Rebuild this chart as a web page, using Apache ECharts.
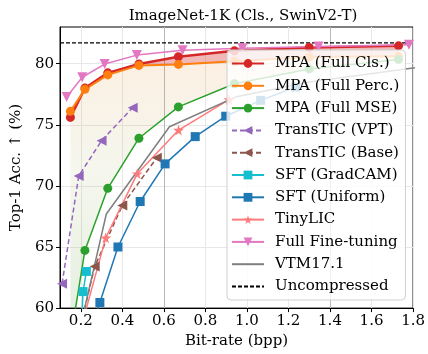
<!DOCTYPE html>
<html><head><meta charset="utf-8">
<script src="https://cdn.jsdelivr.net/npm/echarts@6/dist/echarts.min.js"></script>
<style>html,body{margin:0;padding:0;background:#fff}#c{width:428px;height:354px}</style>
</head><body><div id="c"></div>
<script>
// ---- data ----
const xTicks = [0.2,0.4,0.6,0.8,1.0,1.2,1.4,1.6,1.8];
const yTicks = [60,65,70,75,80];
const mpaX   = [0.15,0.22,0.33,0.48,0.67,0.94,1.30,1.73];
const clsY   = [75.6,78.0,79.25,79.97,80.57,81.05,81.32,81.46];
const percY  = [76.1,77.9,79.08,79.86,79.94,80.2,80.55,80.6];
const mseY   = [57.4,64.72,69.8,73.9,76.46,78.36,79.57,80.35];
const vptX   = [0.11,0.19,0.30,0.45];
const vptY   = [62.0,70.8,73.7,76.4];
const baseX  = [0.2,0.267,0.40,0.566];
const baseY  = [58.6,63.4,68.4,72.3];
const gcamX  = [0.2,0.211,0.227];
const gcamY  = [57.5,61.35,63.0];
const uniX   = [0.25,0.292,0.379,0.486,0.606,0.751,0.898,1.066,1.234];
const uniY   = [58.3,60.46,65.0,68.72,71.8,74.03,75.7,77.0,78.08];
const tinyX  = [0.2,0.32,0.472,0.671,0.914];
const tinyY  = [58.3,65.75,71.0,74.57,77.06];
const fftX   = [0.132,0.207,0.315,0.47,0.69,0.978,1.345,1.78];
const fftY   = [77.27,78.89,79.97,80.7,81.1,81.27,81.4,81.55];
const vtmX   = [0.2,0.323,0.627,0.95,1.3,1.85];
const vtmY   = [58.6,67.7,74.84,77.3,78.5,79.75];
const uncompressedAcc = 81.7;
const xMin = 0.1, xMax = 1.8, yMin = 60, yMax = 83;

const zip = (xs, ys) => xs.map((x, i) => [x, ys[i]]);
const FONT = 'DejaVu Serif';
const STAR = 'path://M50,0 L61,35 L98,35 L68,57 L79,91 L50,70 L21,91 L32,57 L2,35 L39,35 Z';

function clipBelow(pts, ymin) {
  const out = [];
  for (let i = 0; i < pts.length; i++) {
    const a = pts[i], b = pts[(i + 1) % pts.length];
    const ain = a[1] >= ymin, bin = b[1] >= ymin;
    if (ain) out.push(a);
    if (ain !== bin) {
      const t = (ymin - a[1]) / (b[1] - a[1]);
      out.push([a[0] + t * (b[0] - a[0]), ymin]);
    }
  }
  return out;
}

const fillSeries = {
  type: 'custom', silent: true, z: 1,
  data: [[mpaX[0], yMin]],
  renderItem: function (params, api) {
    const cls = zip(mpaX, clsY), perc = zip(mpaX, percY), mse = zip(mpaX, mseY);
    const redPoly = clipBelow(cls.concat(perc.slice().reverse()), yMin).map(p => api.coord(p));
    const lowPoly = clipBelow(perc.concat(mse.slice().reverse()), yMin).map(p => api.coord(p));
    return { type: 'group', children: [
      { type: 'polygon', shape: { points: lowPoly }, style: { fill: {
        type: 'linear', x: 0, y: 0, x2: 0, y2: 1, colorStops: [
          { offset: 0, color: 'rgba(240,140,50,0.14)' },
          { offset: 0.45, color: 'rgba(150,160,60,0.09)' },
          { offset: 1, color: 'rgba(60,150,40,0.14)' }] } } },
      { type: 'polygon', shape: { points: redPoly }, style: { fill: 'rgba(214,39,40,0.33)' } }
    ]};
  }
};

function lineS(name, xs, ys, color, symbol, size, opt) {
  return Object.assign({
    name, type: 'line', data: zip(xs, ys), symbol, symbolSize: size,
    lineStyle: { color, width: 1.5 }, itemStyle: { color },
    emphasis: { disabled: true }, animation: false, clip: true
  }, opt || {});
}

const series = [
  fillSeries,
  lineS('MPA (Full Cls.)', mpaX, clsY, '#d62728', 'circle', 9, { lineStyle: { color: '#d62728', width: 2.5 }, z: 3 }),
  lineS('MPA (Full Perc.)', mpaX, percY, '#ff7f0e', 'circle', 9, { lineStyle: { color: '#ff7f0e', width: 2 } }),
  lineS('MPA (Full MSE)', mpaX, mseY, '#2ca02c', 'circle', 9),
  lineS('TransTIC (VPT)', vptX, vptY, '#9467bd', 'triangle', 10, { symbolRotate: 90, lineStyle: { color: '#9467bd', width: 1.5, type: [5, 3] } }),
  lineS('TransTIC (Base)', baseX, baseY, '#8c564b', 'triangle', 10, { symbolRotate: 90, lineStyle: { color: '#8c564b', width: 1.5, type: [5, 3] } }),
  lineS('SFT (GradCAM)', gcamX, gcamY, '#17becf', 'rect', 9),
  lineS('SFT (Uniform)', uniX, uniY, '#1f77b4', 'rect', 9),
  lineS('TinyLIC', tinyX, tinyY, '#ff7b7b', STAR, 11),
  lineS('Full Fine-tuning', fftX, fftY, '#e377c2', 'triangle', 10, { symbolRotate: 180 }),
  lineS('VTM17.1', vtmX, vtmY, '#7f7f7f', 'none', 0),
  lineS('Uncompressed', [xMin, xMax], [uncompressedAcc, uncompressedAcc], '#000', 'none', 0, { lineStyle: { color: '#000', width: 1.2, type: [4, 2] }, z: 3 })
];

const legendNames = series.filter(s => s.name).map(s => s.name);
const noSymbol = ['VTM17.1', 'Uncompressed'];
const legendData = legendNames.map(n => noSymbol.includes(n) ? { name: n, itemStyle: { opacity: 0 } } : n);
const minor = '#e8e8e8', major = '#b8b8b8';

const chart = echarts.init(document.getElementById('c'), null, { renderer: 'canvas' });
chart.setOption({
  animation: false,
  backgroundColor: '#fff',
  textStyle: { fontFamily: FONT },
  title: { text: 'ImageNet-1K (Cls., SwinV2-T)', left: 238, top: 4, textAlign: 'center',
    textStyle: { fontFamily: FONT, fontSize: 15, fontWeight: 'normal', color: '#000' } },
  grid: { left: 60, right: 13, top: 27, bottom: 44, show: true, borderColor: '#000', borderWidth: 1, backgroundColor: 'transparent' },
  legend: {
    data: legendData, orient: 'vertical', left: 227, top: 50, z: 20,
    padding: [6, 6, 6, 4], itemGap: 7.3, itemWidth: 32, itemHeight: 11,
    backgroundColor: 'rgba(255,255,255,0.8)', borderColor: '#d0d0d0', borderWidth: 1, borderRadius: 4,
    textStyle: { fontFamily: FONT, fontSize: 15, color: '#000', padding: [0, 0, 0, 6] },
    selectedMode: false
  },
  xAxis: {
    type: 'value', min: xMin, max: xMax, interval: 0.05,
    name: 'Bit-rate (bpp)', nameLocation: 'middle', nameGap: 25,
    nameTextStyle: { fontFamily: FONT, fontSize: 15, color: '#000' },
    axisLine: { show: true, lineStyle: { color: '#000', width: 1 } },
    axisTick: { show: true, inside: false, length: 4, customValues: xTicks, lineStyle: { color: '#000' } },
    axisLabel: { customValues: xTicks, margin: 6, fontFamily: FONT, fontSize: 15, color: '#000',
      formatter: v => v.toFixed(1) },
    splitLine: { show: true, lineStyle: { color: [minor, minor, major, minor], width: 1 } }
  },
  yAxis: {
    type: 'value', min: yMin, max: yMax, interval: 1,
    name: 'Top-1 Acc. ↑ (%)', nameLocation: 'middle', nameGap: 34,
    nameTextStyle: { fontFamily: FONT, fontSize: 15, color: '#000' },
    axisLine: { show: true, lineStyle: { color: '#000', width: 1 } },
    axisTick: { show: true, inside: false, length: 4, customValues: yTicks, lineStyle: { color: '#000' } },
    axisLabel: { customValues: yTicks, margin: 6, fontFamily: FONT, fontSize: 15, color: '#000' },
    splitLine: { show: true, lineStyle: { color: [major, minor, minor, minor, minor], width: 1 } }
  },
  series
});
</script></body></html>
